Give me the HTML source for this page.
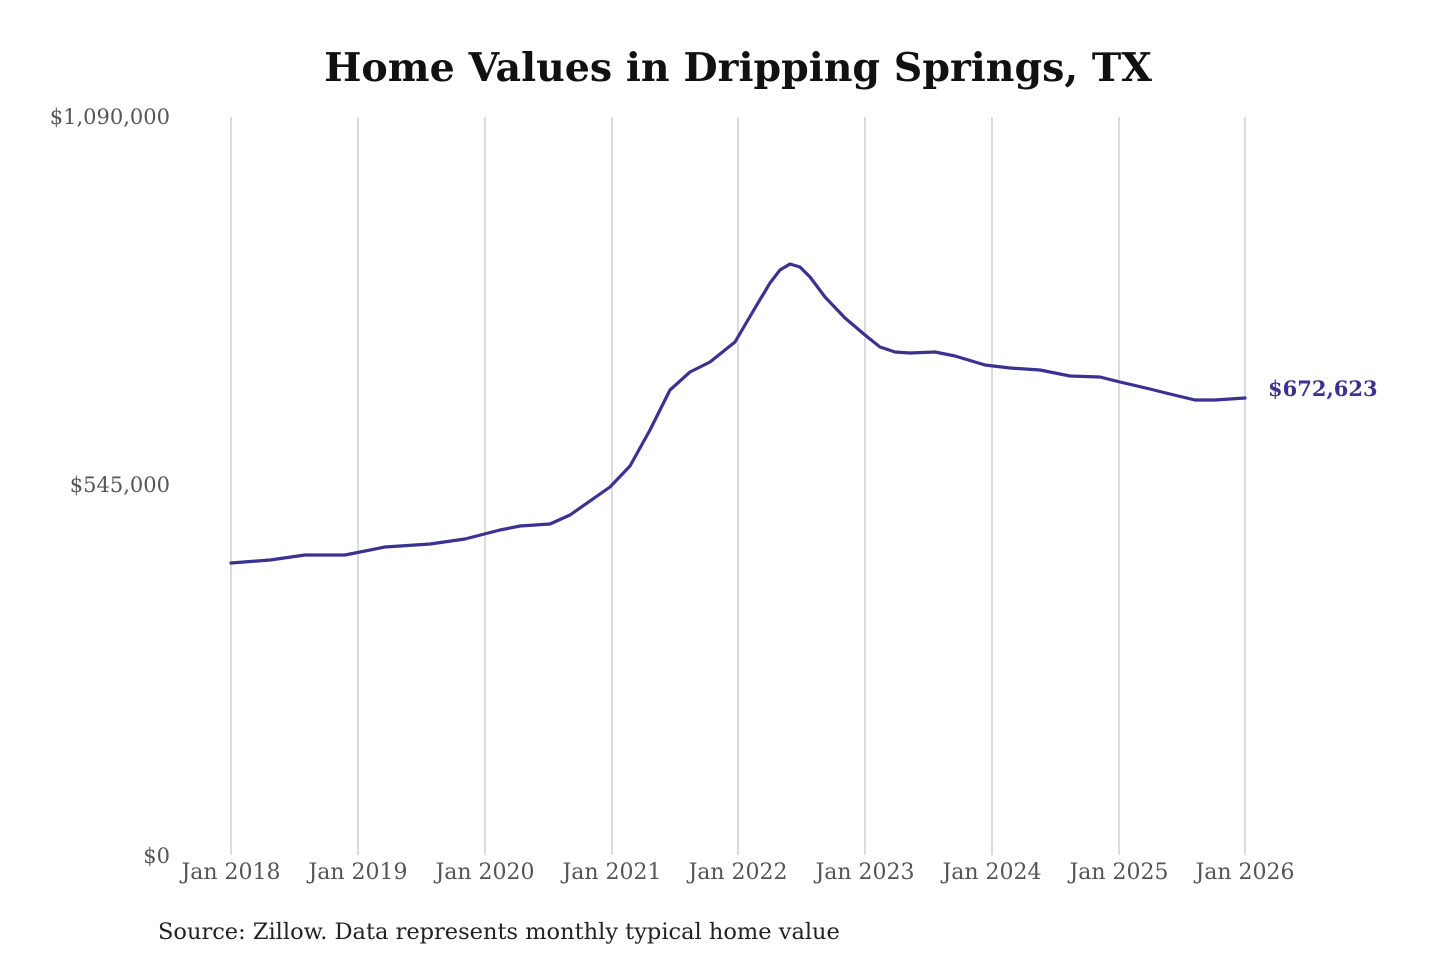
<!DOCTYPE html>
<html><head><meta charset="utf-8"><style>
html,body{margin:0;padding:0;background:#fff;}
</style></head><body>
<svg width="1440" height="960" xmlns="http://www.w3.org/2000/svg" style="display:block">
<rect width="1440" height="960" fill="#fff"/>
<text x="738" y="81" text-anchor="middle" font-family="'DejaVu Serif','Liberation Serif',serif" font-weight="bold" font-size="39.5" fill="#111">Home Values in Dripping Springs, TX</text>
<g font-family="'DejaVu Serif','Liberation Serif',serif" font-size="21" fill="#555" text-anchor="end">
<text x="170" y="124">$1,090,000</text>
<text x="170" y="492">$545,000</text>
<text x="170" y="863">$0</text>
</g>
<g stroke="#c8c8c8" stroke-width="1.3">
<line x1="231" y1="117" x2="231" y2="855"/><line x1="358" y1="117" x2="358" y2="855"/>
<line x1="485" y1="117" x2="485" y2="855"/><line x1="612" y1="117" x2="612" y2="855"/>
<line x1="738" y1="117" x2="738" y2="855"/><line x1="865" y1="117" x2="865" y2="855"/>
<line x1="992" y1="117" x2="992" y2="855"/><line x1="1119" y1="117" x2="1119" y2="855"/>
<line x1="1245" y1="117" x2="1245" y2="855"/>
</g>
<g font-family="'DejaVu Serif','Liberation Serif',serif" font-size="22" fill="#555" text-anchor="middle">
<text x="231" y="879">Jan 2018</text><text x="358" y="879">Jan 2019</text><text x="485" y="879">Jan 2020</text>
<text x="612" y="879">Jan 2021</text><text x="738" y="879">Jan 2022</text><text x="865" y="879">Jan 2023</text>
<text x="992" y="879">Jan 2024</text><text x="1119" y="879">Jan 2025</text><text x="1245" y="879">Jan 2026</text>
</g>
<polyline fill="none" stroke="#3a3291" stroke-width="3.2" stroke-linejoin="round" stroke-linecap="round" points="231,563 270,560 305,555 345,555 385,547 430,544 465,539 500,530 520,526 550,524 570,515 610,487 630,466 650,430 670,390 690,372 710,362 735,342 755,308 770,283 780,270 790,264 800,267 810,277 825,297 845,318 865,335 880,347 895,352 910,353 935,352 955,356 985,365 1010,368 1040,370 1070,376 1100,377 1120,382 1150,389 1170,394 1195,400 1215,400 1245,398"/>
<text x="1268" y="396" font-family="'DejaVu Serif','Liberation Serif',serif" font-weight="bold" font-size="21" fill="#3a3291">$672,623</text>
<text x="158" y="939" font-family="'DejaVu Serif','Liberation Serif',serif" font-size="22.5" fill="#222">Source: Zillow. Data represents monthly typical home value</text>
</svg>
</body></html>
